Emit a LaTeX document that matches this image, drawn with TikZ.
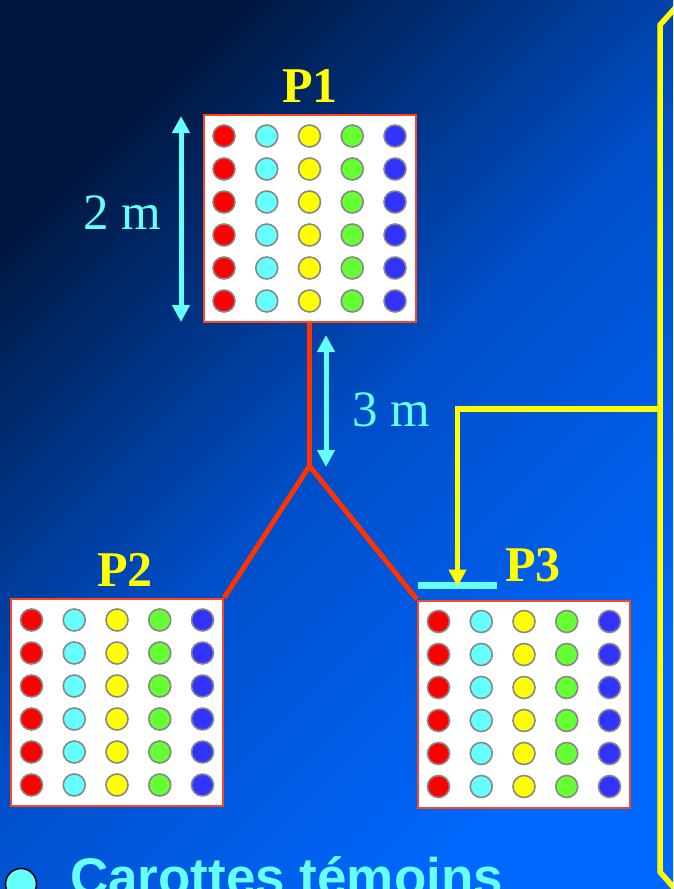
\documentclass[tikz,border=0pt]{standalone}
\usepackage{fontspec}
\setmainfont{Liberation Serif}
\newfontfamily\legendfont{Liberation Sans}
\usepackage{xcolor}
\usepackage{tikz}
\usetikzlibrary{arrows.meta, positioning, calc}
\definecolor{bgdark}{RGB}{0,22,60}
\definecolor{bgmid}{RGB}{0,78,200}
\definecolor{bgbright}{RGB}{0,104,255}
\definecolor{plotred}{RGB}{255,51,0}
\definecolor{frameorange}{RGB}{255,68,34}
\definecolor{dimcyan}{RGB}{102,255,255}
\definecolor{markyellow}{RGB}{255,255,0}
\definecolor{corered}{RGB}{255,0,0}
\definecolor{coregreen}{RGB}{102,255,51}
\definecolor{coreblue}{RGB}{51,51,255}
\definecolor{coregray}{RGB}{136,136,136}

\begin{document}
\begin{tikzpicture}[
  x=1pt, y=-1pt,
  plotbox/.style={rectangle, draw=frameorange, line width=2pt, fill=white, minimum width=212pt, minimum height=207pt, inner sep=0pt},
  core/.style={circle, draw=coregray, line width=1.6pt, minimum size=22pt, inner sep=0pt},
  plotname/.style={font=\fontsize{50}{56}\selectfont\bfseries, text=markyellow, inner sep=0pt},
  dimlabel/.style={font=\fontsize{51}{58}\selectfont, text=dimcyan, inner sep=0pt},
  dimarrow/.style={draw=dimcyan, line width=5pt, {Triangle[width=17pt,length=17pt]}-{Triangle[width=17pt,length=17pt]}},
  link/.style={draw=plotred, line width=5pt},
  marker/.style={draw=markyellow, line width=5.5pt},
  legend/.style={font=\fontsize{53}{60}\selectfont\legendfont\bfseries, text=dimcyan, inner sep=0pt}
]
  \clip (0,0) rectangle (673,889);
  \shade[top color=bgdark, bottom color=bgbright, middle color=bgmid, shading angle=45]
    (0,0) rectangle (673,889);

  % the three plots
  \node[plotbox] (p1) at (309.5,218.5) {};
  \node[plotbox] (p2) at (117,702.5) {};
  \node[plotbox] (p3) at (524,704) {};
  \foreach \p in {p1,p2,p3} {
    \foreach \c/\i in {corered/0,dimcyan/1,markyellow/2,coregreen/3,coreblue/4} {
      \foreach \j in {0,...,5} {
        \node[core, fill=\c] (\p-\i-\j) at ($(\p.center)+(\i*42.75-85.5,\j*33-82.5)$) {};
      }
    }
  }
  \node[plotname] (p1name) at (310,86) {P1};
  \node[plotname] (p2name) at (125,570) {P2};
  \node[plotname] (p3name) at (533,565) {P3};

  % links between plots
  \coordinate (fork) at (309.5,466);
  \draw[link] (p1.south) -- (fork);
  \draw[link] (fork) -- (p2.north east);
  \draw[link] (fork) -- (p3.north west);

  % distances
  \coordinate (d2top) at (181,116);
  \coordinate (d2bot) at (181,322);
  \draw[dimarrow] (d2top) -- (d2bot);
  \node[dimlabel] (d2lab) at (122.5,212.5) {2 m};
  \coordinate (d3top) at (326,335);
  \coordinate (d3bot) at (326,467);
  \draw[dimarrow] (d3top) -- (d3bot);
  \node[dimlabel] (d3lab) at (391.5,410) {3 m};

  % sampling mark on P3
  \node[rectangle, fill=dimcyan, minimum width=79pt, minimum height=7pt, inner sep=0pt] (bar) at (457.5,585.5) {};
  \coordinate (brtop) at (676,7);
  \coordinate (brtl) at (660,25);
  \coordinate (brmid) at (660,409);
  \coordinate (brbl) at (660,872);
  \coordinate (brbot) at (676,890);
  \draw[marker] (brtop) -- (brtl) -- (brbl) -- (brbot);
  \draw[marker, -{Triangle[width=17pt,length=17pt]}] (brmid) -| ($(bar.center)+(0,1)$);

  % legend
  \node[circle, draw=black, line width=1.5pt, fill=dimcyan, minimum size=31pt, inner sep=0pt] (legdot) at (21,884) {};
  \node[legend, anchor=base west] (legtext) at (70,895) {Carottes témoins};
\end{tikzpicture}
\end{document}
